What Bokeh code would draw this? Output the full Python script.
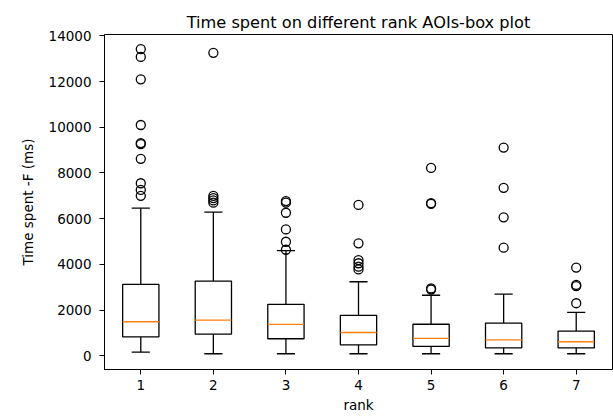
from bokeh.plotting import figure
from bokeh.models import Range1d, FixedTicker, ColumnDataSource
from bokeh.embed import file_html
from bokeh.resources import INLINE

# ---- data ----
ranks = [1, 2, 3, 4, 5, 6, 7]
q1 = [830, 950, 745, 480, 410, 350, 350]
medians = [1490, 1560, 1375, 1020, 760, 700, 615]
q3 = [3125, 3270, 2250, 1770, 1380, 1430, 1080]
whisker_low = [160, 90, 90, 90, 90, 90, 90]
whisker_high = [6460, 6290, 4600, 3240, 2650, 2700, 1900]

outliers_1 = [13420, 13080, 12100, 10100, 9310, 9260, 8620, 7550, 7260, 7000]
outliers_2 = [13260, 7000, 6900, 6800, 6700]
outliers_3 = [6770, 6700, 6260, 5530, 4990, 4640]
outliers_4 = [6600, 4920, 4190, 4050, 3900, 3780]
outliers_5 = [8220, 6680, 6650, 2950, 2900]
outliers_6 = [9110, 7350, 6060, 4730]
outliers_7 = [3860, 3100, 3050, 2300]
outliers = [outliers_1, outliers_2, outliers_3, outliers_4, outliers_5, outliers_6, outliers_7]

y_ticks = [0, 2000, 4000, 6000, 8000, 10000, 12000, 14000]

BOX_W = 0.5
CAP_W = 0.25
FONT = "DejaVu Sans"

p = figure(width=613, height=418, output_backend="svg", toolbar_location=None,
           x_range=Range1d(0.5, 7.5), y_range=Range1d(-600, 14060),
           min_border_left=104, min_border_right=1, min_border_top=34, min_border_bottom=49,
           title="Time spent on different rank AOIs-box plot")

p.background_fill_color = "white"
p.border_fill_color = "white"
p.outline_line_color = "black"
p.outline_line_width = 1
p.xgrid.visible = False
p.ygrid.visible = False

p.title.text_font = FONT
p.title.text_font_size = "16.2px"
p.title.text_font_style = "normal"
p.title.align = "center"
p.title.text_color = "black"
p.title.standoff = 5

for ax in (p.xaxis[0], p.yaxis[0]):
    ax.axis_line_color = "black"
    ax.major_tick_line_color = "black"
    ax.major_tick_out = 5
    ax.major_tick_in = 0
    ax.minor_tick_line_color = None
    ax.major_label_text_font = FONT
    ax.major_label_text_font_size = "13.5px"
    ax.major_label_text_color = "black"
    ax.axis_label_text_font = FONT
    ax.axis_label_text_font_size = "13.5px"
    ax.axis_label_text_font_style = "normal"
    ax.axis_label_text_color = "black"

p.xaxis.ticker = FixedTicker(ticks=ranks)
p.yaxis.ticker = FixedTicker(ticks=y_ticks)
p.xaxis.axis_label = "rank"
p.yaxis.axis_label = "Time spent -F (ms)"
p.yaxis.major_label_standoff = 8
p.yaxis.axis_label_standoff = 10
p.xaxis.major_label_standoff = 5
p.xaxis.axis_label_standoff = 4

src = ColumnDataSource(dict(
    x=ranks, q1=q1, med=medians, q3=q3, lo=whisker_low, hi=whisker_high,
    bl=[r - BOX_W / 2 for r in ranks], br=[r + BOX_W / 2 for r in ranks],
    cl=[r - CAP_W / 2 for r in ranks], cr=[r + CAP_W / 2 for r in ranks],
))

# whiskers
p.segment(x0="x", y0="q3", x1="x", y1="hi", source=src, line_color="black", line_width=1.3)
p.segment(x0="x", y0="q1", x1="x", y1="lo", source=src, line_color="black", line_width=1.3)
# caps
p.segment(x0="cl", y0="hi", x1="cr", y1="hi", source=src, line_color="black", line_width=1.3)
p.segment(x0="cl", y0="lo", x1="cr", y1="lo", source=src, line_color="black", line_width=1.3)
# boxes
p.quad(left="bl", right="br", bottom="q1", top="q3", source=src,
       fill_color="white", fill_alpha=0, line_color="black", line_width=1.3)
# medians
p.segment(x0="bl", y0="med", x1="br", y1="med", source=src, line_color="#ff7f0e", line_width=1.3)

# fliers
fx, fy = [], []
for r, vals in zip(ranks, outliers):
    for v in vals:
        fx.append(r)
        fy.append(v)
p.scatter(fx, fy, marker="circle", size=9, fill_color=None, line_color="black", line_width=1.3)

open("out.html", "w").write(file_html(p, INLINE))
